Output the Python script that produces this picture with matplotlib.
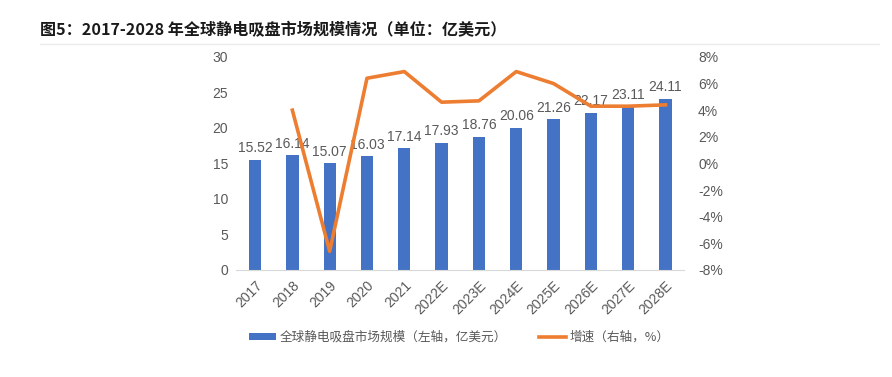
import matplotlib.pyplot as plt
import numpy as np

plt.rcParams['font.family'] = ['Noto Sans CJK SC', 'DejaVu Sans']

years = ["2017", "2018", "2019", "2020", "2021", "2022E", "2023E", "2024E",
         "2025E", "2026E", "2027E", "2028E"]
market = [15.52, 16.14, 15.07, 16.03, 17.14, 17.93, 18.76, 20.06, 21.26, 22.17, 23.11, 24.11]
growth_years = years[1:]
growth = [4.0, -6.6, 6.4, 6.9, 4.6, 4.7, 6.9, 6.0, 4.3, 4.3, 4.4]

grey = "#595959"
num_font = ["Liberation Sans", "DejaVu Sans"]
x = np.arange(len(years))

fig = plt.figure(figsize=(8.92, 3.77), dpi=100)
ax = fig.add_axes([0.265, 0.284, 0.502, 0.565])

bars = ax.bar(x, market, width=0.33, color="#4472C4", label="全球静电吸盘市场规模（左轴，亿美元）", zorder=2)
for xi, v in zip(x, market):
    ax.text(xi, v + 0.6, f"{v:.2f}", ha="center", va="bottom", fontsize=10,
            color=grey, family=num_font, zorder=1)

ax.set_xlim(-0.5, 11.5)
ax.set_ylim(0, 30)
ax.set_yticks(range(0, 31, 5))
ax.set_xticks(x)
ax.set_xticklabels(years, rotation=45, ha="right", rotation_mode="anchor")
ax.tick_params(axis="both", length=0, colors=grey, labelsize=10, pad=6)
for lab in ax.get_xticklabels() + ax.get_yticklabels():
    lab.set_family(num_font)
for s in ["top", "right", "left"]:
    ax.spines[s].set_visible(False)
ax.spines["bottom"].set_color("#D9D9D9")

ax2 = ax.twinx()
gx = [years.index(y) for y in growth_years]
line, = ax2.plot(gx, growth, color="#ED7D31", lw=2.6, label="增速（右轴，%）", zorder=3)
ax2.set_ylim(-8, 8)
ax2.set_yticks(range(-8, 9, 2))
ax2.set_yticklabels([f"{t}%" for t in range(-8, 9, 2)])
ax2.tick_params(axis="y", length=0, colors=grey, labelsize=10, pad=10)
for lab in ax2.get_yticklabels():
    lab.set_family(num_font)
for s in ["top", "right", "left", "bottom"]:
    ax2.spines[s].set_visible(False)

fig.legend([bars, line], [bars.get_label(), line.get_label()], loc="center",
           bbox_to_anchor=(0.515, 0.105), ncol=2, frameon=False, fontsize=9.1,
           labelcolor=grey, handlelength=2.1, handleheight=0.5, columnspacing=2.6,
           handletextpad=0.3)

fig.text(0.045, 0.92, "图5：2017-2028 年全球静电吸盘市场规模情况（单位：亿美元）",
         fontsize=11.6, fontweight="bold", style="italic", color="#1a1a1a", va="center")
fig.add_artist(plt.Line2D([0.045, 0.985], [0.883, 0.883], color="#EBEBEB", lw=1))

fig.savefig("out.png", dpi=100)
